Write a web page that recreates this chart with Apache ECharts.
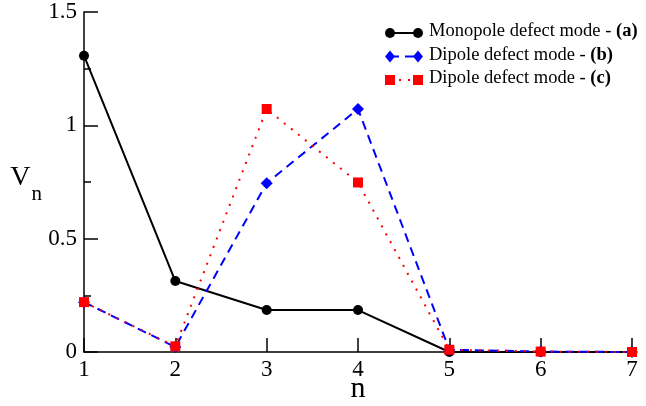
<!DOCTYPE html>
<html>
<head>
<meta charset="utf-8">
<script src="https://cdn.jsdelivr.net/npm/echarts@6/dist/echarts.min.js"></script>
<style>
  html, body { margin: 0; padding: 0; background: #fff; }
  #chart { width: 646px; height: 406px; }
</style>
</head>
<body>
<div id="chart"></div>
<script>
// Mode index n
const nValues = [1, 2, 3, 4, 5, 6, 7];
// V_n for each defect mode
const monopoleA = [1.307, 0.313, 0.185, 0.185, 0.0, 0.0, 0.0];
const dipoleB   = [0.22, 0.022, 0.745, 1.072, 0.01, 0.002, 0.0];
const dipoleC   = [0.22, 0.025, 1.072, 0.748, 0.01, 0.002, 0.0];
const seriesNames = ['Monopole defect mode - ', 'Dipole defect mode - ', 'Dipole defect mode - '];
const seriesTags = ['(a)', '(b)', '(c)'];

const pair = ys => nValues.map((x, i) => [x, ys[i]]);
const FONT = '"Liberation Serif", "DejaVu Serif", serif';

const chart = echarts.init(document.getElementById('chart'), null, { renderer: 'canvas' });

const styles = [
  { color: '#000000', symbol: 'circle', size: 10, type: 'solid' },
  { color: '#0000ff', symbol: 'diamond', size: 12, type: [9, 6] },
  { color: '#ff0000', symbol: 'rect', size: 10, type: [2, 7] }
];
const datasets = [monopoleA, dipoleB, dipoleC];

// hand-drawn legend: line with a marker at each end
const legendGraphics = [];
const lx0 = 390, lx1 = 418, ly0 = 33, ldy = 23.5;
styles.forEach((s, i) => {
  const y = ly0 + i * ldy;
  legendGraphics.push({
    type: 'line', shape: { x1: lx0, y1: y, x2: lx1, y2: y },
    style: { stroke: s.color, lineWidth: 2, lineDash: s.type === 'solid' ? null : s.type }
  });
  [lx0, lx1].forEach(x => {
    if (s.symbol === 'circle') {
      legendGraphics.push({ type: 'circle', shape: { cx: x, cy: y, r: 5 }, style: { fill: s.color } });
    } else if (s.symbol === 'diamond') {
      legendGraphics.push({ type: 'polygon', shape: { points: [[x, y - 6], [x + 5, y], [x, y + 6], [x - 5, y]] }, style: { fill: s.color } });
    } else {
      legendGraphics.push({ type: 'rect', shape: { x: x - 5, y: y - 5, width: 10, height: 10 }, style: { fill: s.color } });
    }
  });
  legendGraphics.push({
    type: 'text', left: 429, top: y - 11,
    style: {
      text: '{r|' + seriesNames[i] + '}{b|' + seriesTags[i] + '}',
      rich: {
        r: { fontFamily: FONT, fontSize: 18.5, fill: '#000' },
        b: { fontFamily: FONT, fontSize: 18.5, fontWeight: 'bold', fill: '#000' }
      }
    }
  });
});

chart.setOption({
  animation: false,
  backgroundColor: '#ffffff',
  grid: { left: 84, right: 14, top: 12, bottom: 54, containLabel: false, outerBoundsMode: 'none' },
  xAxis: {
    type: 'value', min: 1, max: 7, interval: 1,
    name: 'n', nameLocation: 'middle', nameGap: 22, nameMoveOverlap: false,
    nameTextStyle: { fontFamily: FONT, fontSize: 30, color: '#000' },
    axisLine: { show: true, onZero: false, lineStyle: { color: '#000', width: 1.5 } },
    axisTick: { show: true, inside: true, length: 14, lineStyle: { color: '#000', width: 1.5 } },
    axisLabel: { fontFamily: FONT, fontSize: 23, color: '#000', margin: 6 },
    splitLine: { show: false }
  },
  yAxis: {
    type: 'value', min: 0, max: 1.5, interval: 0.5,
    name: '{v|V}{s|n}', nameLocation: 'middle', nameGap: 42, nameRotate: 0, nameMoveOverlap: false,
    nameTextStyle: {
      padding: [5, 0, 0, 0],
      rich: {
        v: { fontFamily: FONT, fontSize: 28, color: '#000', verticalAlign: 'bottom', padding: [0, 0, 13, 0] },
        s: { fontFamily: FONT, fontSize: 21, color: '#000', verticalAlign: 'bottom', padding: [0, 0, 0, 1] }
      }
    },
    axisLine: { show: true, onZero: false, lineStyle: { color: '#000', width: 1.5 } },
    axisTick: { show: true, inside: true, length: 14, lineStyle: { color: '#000', width: 1.5 } },
    minorTick: { show: true, splitNumber: 2, length: 7, lineStyle: { color: '#000', width: 1.5 } },
    axisLabel: { fontFamily: FONT, fontSize: 23, color: '#000', margin: 7 },
    splitLine: { show: false },
    minorSplitLine: { show: false }
  },
  series: styles.map((s, i) => ({
    type: 'line',
    name: seriesNames[i] + seriesTags[i],
    data: pair(datasets[i]),
    symbol: s.symbol,
    symbolSize: s.size,
    showAllSymbol: true,
    clip: false,
    itemStyle: { color: s.color },
    lineStyle: { color: s.color, width: 2, type: s.type },
    z: 2 + i
  })),
  graphic: legendGraphics
});
</script>
</body>
</html>
